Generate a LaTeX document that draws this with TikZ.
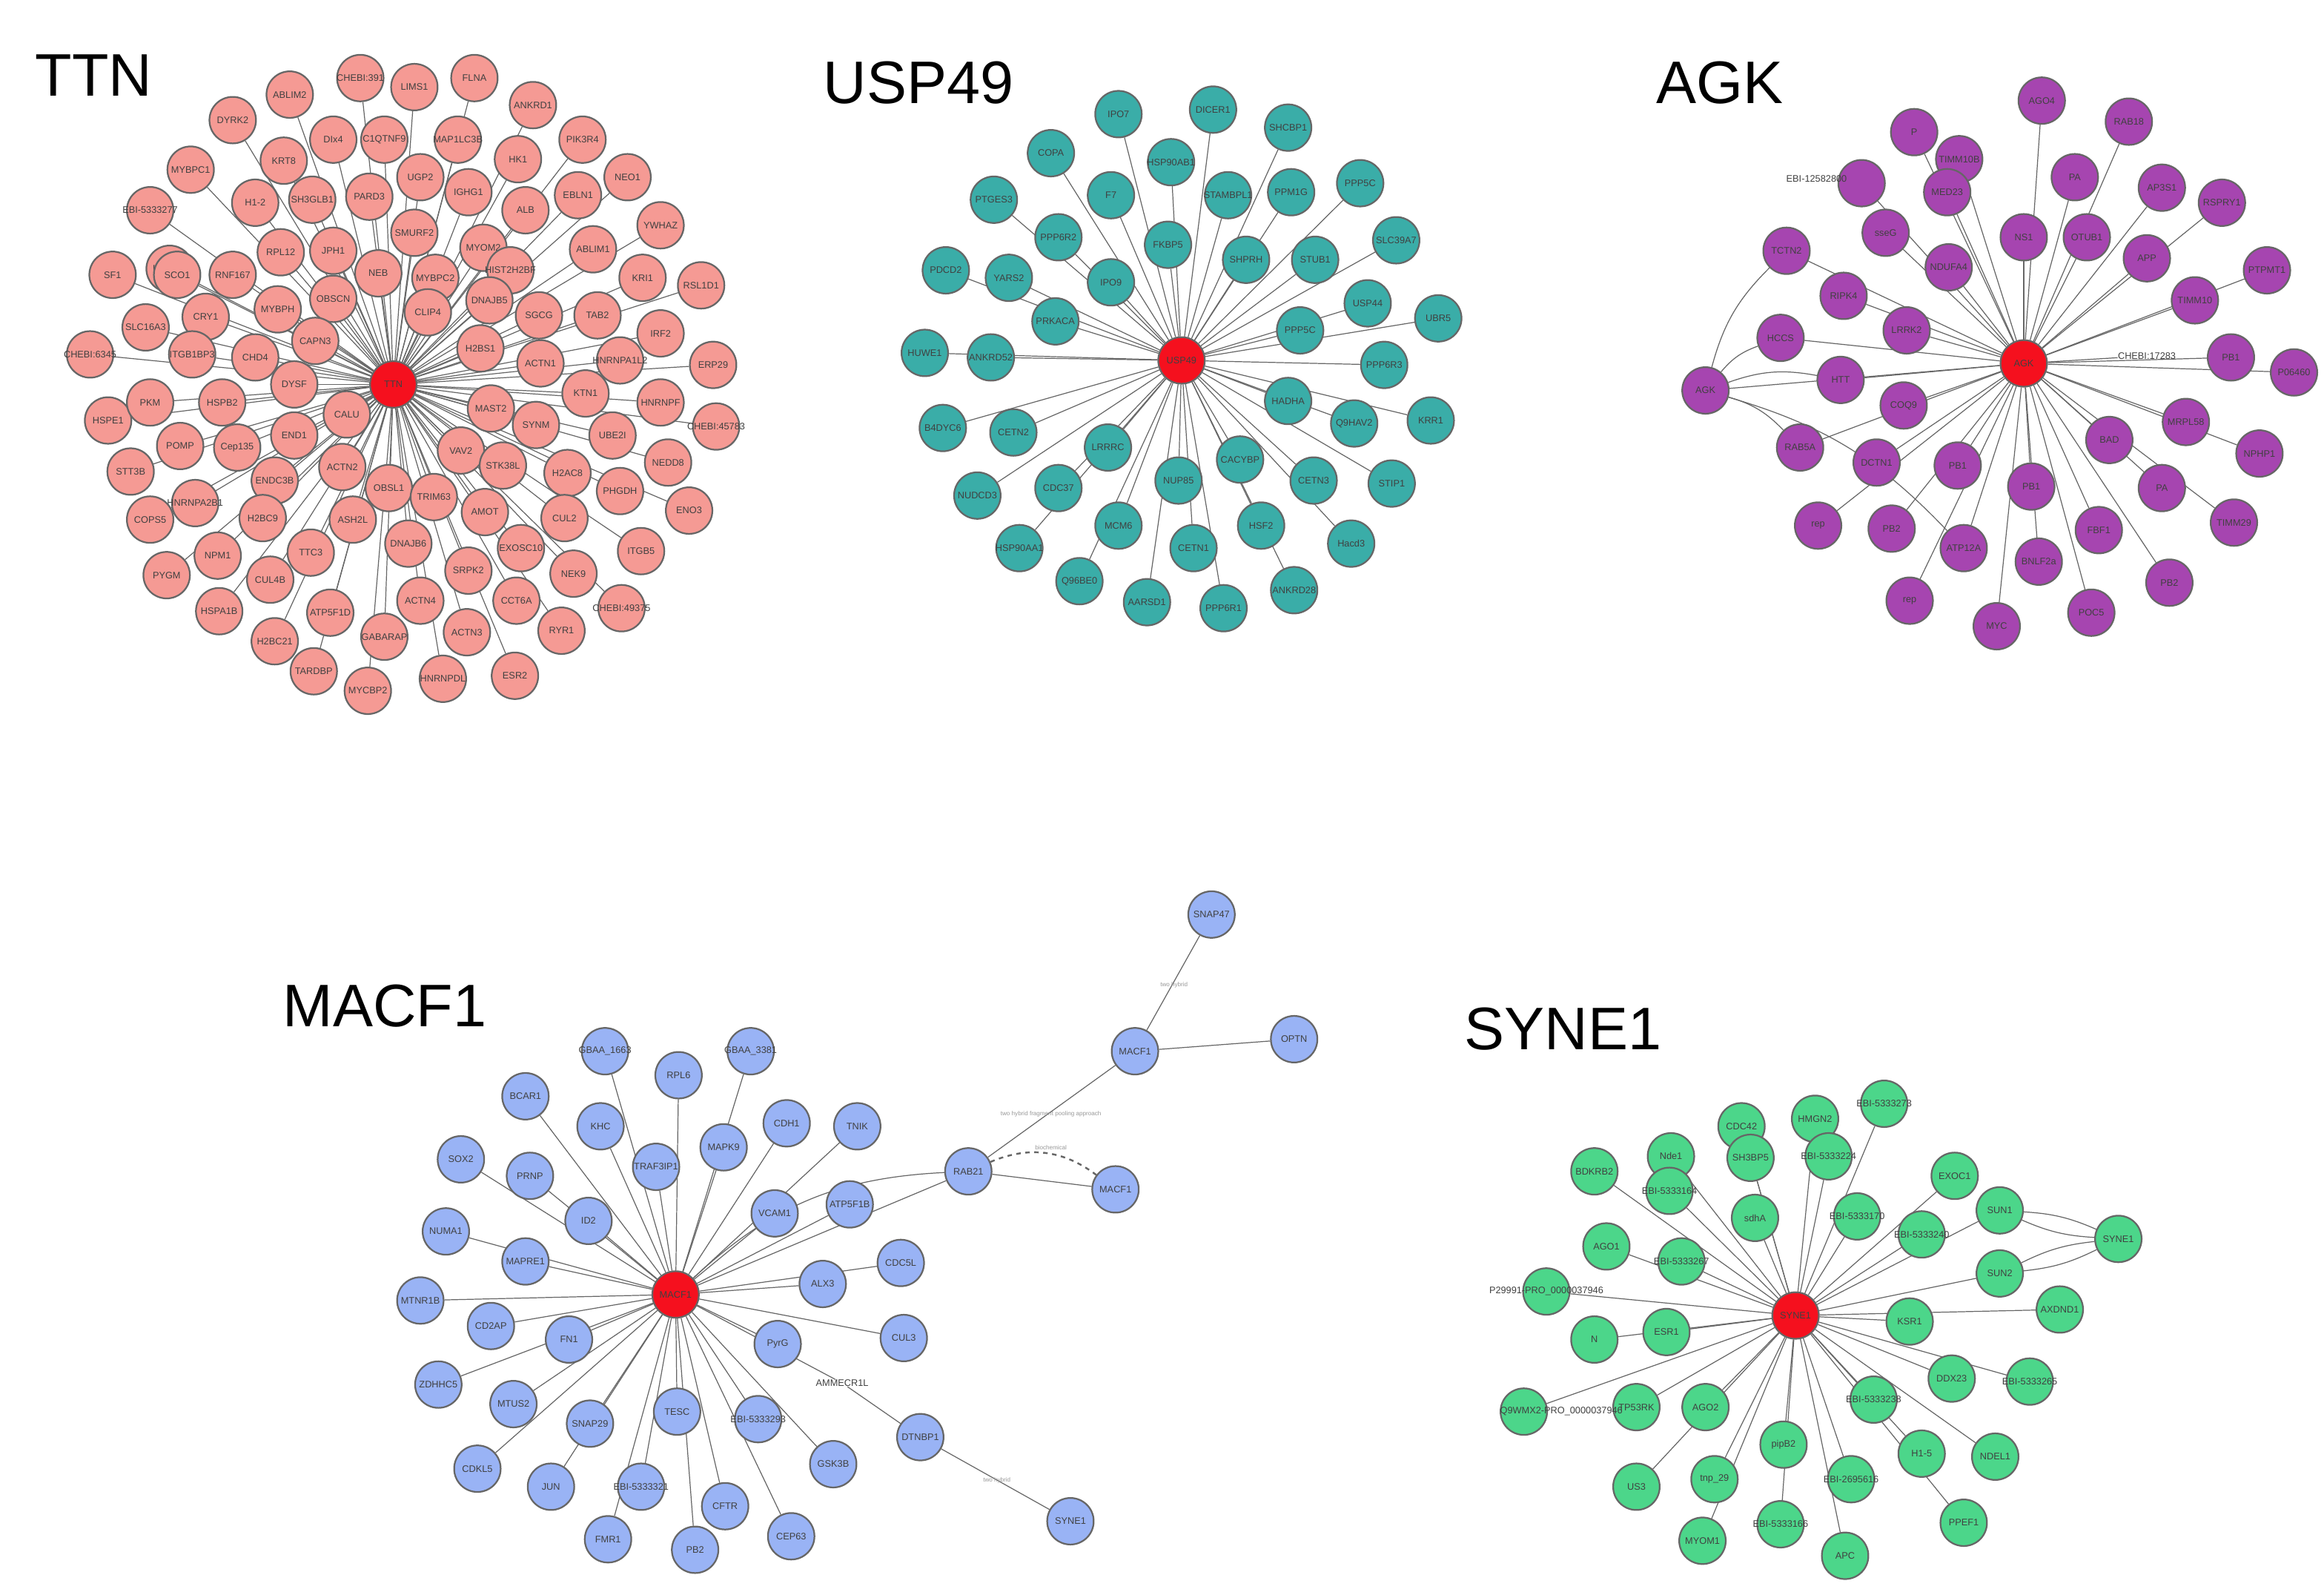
\documentclass[tikz,border=0pt]{standalone}
\usepackage{fontspec}
\setmainfont{Liberation Sans}
\usetikzlibrary{backgrounds}
\definecolor{cT}{HTML}{F59A94}
\definecolor{cU}{HTML}{3AADA8}
\definecolor{cA}{HTML}{A645B0}
\definecolor{cM}{HTML}{99B3F5}
\definecolor{cS}{HTML}{4CD68A}
\definecolor{hubc}{HTML}{F5101E}
\pgfdeclarelayer{edges}
\pgfsetlayers{edges,main}
\tikzset{
 nd/.style={circle,draw=gray!80!black,line width=1.1pt,minimum size=31pt,inner sep=0pt},
 lb/.style={font=\fontsize{6.3}{7}\selectfont,text=black!75,inner sep=0pt},
 hub/.style={nd,fill=hubc},
 ed/.style={draw=black!60,line width=0.6pt},
 ttl/.style={font=\fontsize{40}{46}\selectfont,anchor=west},
 el/.style={font=\fontsize{4}{5}\selectfont,text=black!40}
}
\newcommand{\mynet}[3]{%
 \foreach \x/\y/\t [count=\i] in {#3} {
   \node[nd,fill=#1,label={[lb]center:\t}] (#2-\i) at (\x,\y) {};
 }
 \begin{pgfonlayer}{edges}
 \foreach \x/\y/\t [count=\i] in {#3} {\draw[ed] (#2) -- (#2-\i);}
 \end{pgfonlayer}}
\begin{document}
\begin{tikzpicture}[x=1pt,y=-1pt]
\useasboundingbox (0,0) rectangle (1548,1062);
\begin{pgfonlayer}{edges}\fill[white] (0,0) rectangle (1548,1062);\end{pgfonlayer}
\node[ttl] (tT) at (20,50) {TTN};
\node[ttl] (tU) at (545,55) {USP49};
\node[ttl] (tA) at (1100,55) {AGK};
\node[ttl] (tM) at (185,670) {MACF1};
\node[ttl] (tS) at (972,685) {SYNE1};
% TTN
\node[hub,label={[lb]center:TTN}] (T) at (262,256) {};
\mynet{cT}{T}{316/52/FLNA,276/58/LIMS1,240/52/CHEBI:391,193/63/ABLIM2,355/70/ANKRD1,155/80/DYRK2,388/93/PIK3R4,222/93/DIx4,256/93/C1QTNF9,305/93/MAP1LC3B,127/113/MYBPC1,189/107/KRT8,246/131/PARD3,280/118/UGP2,345/106/HK1,418/118/NEO1,170/135/H1-2,208/133/SH3GLB1,312/128/IGHG1,350/140/ALB,385/130/EBLN1,440/150/YWHAZ,100/140/EBI-5333277,276/155/SMURF2,322/165/MYOM2,395/166/ABLIM1,113/179/HMGA1,187/168/RPL12,222/167/JPH1,340/180/HIST2H2BF,428/185/KRI1,467/190/RSL1D1,75/183/SF1,118/183/SCO1,155/183/RNF167,222/199/OBSCN,252/182/NEB,290/185/MYBPC2,326/200/DNAJB5,359/210/SGCG,398/210/TAB2,440/222/IRF2,185/206/MYBPH,137/211/CRY1,285/208/CLIP4,97/218/SLC16A3,210/227/CAPN3,320/232/H2BS1,360/242/ACTN1,413/240/HNRNPA1L2,475/243/ERP29,60/236/CHEBI:6345,128/236/ITGB1BP3,170/238/CHD4,72/280/HSPE1,100/268/PKM,148/268/HSPB2,196/256/DYSF,231/276/CALU,327/272/MAST2,390/262/KTN1,357/283/SYNM,440/268/HNRNPF,477/284/CHEBI:45783,158/298/Cep135,120/297/POMP,196/290/END1,228/311/ACTN2,307/300/VAV2,408/290/UBE2I,87/314/STT3B,130/335/HNRNPA2B1,183/320/ENDC3B,259/325/OBSL1,335/310/STK38L,378/315/H2AC8,413/327/PHGDH,445/308/NEDD8,100/346/COPS5,175/345/H2BC9,235/346/ASH2L,289/331/TRIM63,323/341/AMOT,376/345/CUL2,459/340/ENO3,145/370/NPM1,272/362/DNAJB6,347/365/EXOSC10,427/367/ITGB5,111/383/PYGM,207/368/TTC3,312/380/SRPK2,382/382/NEK9,180/386/CUL4B,344/400/CCT6A,414/405/CHEBI:49375,146/407/HSPA1B,220/408/ATP5F1D,280/400/ACTN4,374/420/RYR1,183/427/H2BC21,256/424/GABARAP,311/421/ACTN3,209/447/TARDBP,295/452/HNRNPDL,343/450/ESR2,245/460/MYCBP2}
% USP49
\node[hub,label={[lb]center:USP49}] (U) at (787,240) {};
\mynet{cU}{U}{745/76/IPO7,808/73/DICER1,858/85/SHCBP1,700/102/COPA,780/108/HSP90AB1,906/122/PPP5C,860/128/PPM1G,818/130/STAMBPL1,662/133/PTGES3,740/130/F7,930/160/SLC39A7,876/173/STUB1,705/158/PPP6R2,778/163/FKBP5,830/173/SHPRH,630/180/PDCD2,672/185/YARS2,740/188/IPO9,911/202/USP44,958/212/UBR5,703/214/PRKACA,866/220/PPP5C,922/243/PPP6R3,616/235/HUWE1,660/238/ANKRD52,858/267/HADHA,953/280/KRR1,628/285/B4DYC6,675/288/CETN2,902/282/Q9HAV2,738/298/LRRRC,826/306/CACYBP,875/320/CETN3,927/322/STIP1,651/330/NUDCD3,705/325/CDC37,785/320/NUP85,840/350/HSF2,900/362/Hacd3,679/365/HSP90AA1,745/350/MCM6,795/365/CETN1,862/393/ANKRD28,719/387/Q96BE0,764/401/AARSD1,815/405/PPP6R1}
% AGK
\node[hub,label={[lb]center:AGK}] (A) at (1348,242) {};
\mynet{cA}{A}{1275/88/P,1360/67/AGO4,1418/81/RAB18,1305/106/TIMM10B,1297/128/MED23,1382/118/PA,1440/125/AP3S1,1240/122/{},1256/155/sseG,1348/158/NS1,1390/158/OTUB1,1480/135/RSPRY1,1190/167/TCTN2,1298/178/NDUFA4,1430/172/APP,1228/197/RIPK4,1462/200/TIMM10,1510/180/PTPMT1,1186/225/HCCS,1270/220/LRRK2,1486/238/PB1,1528/248/P06460,1226/253/HTT,1268/270/COQ9,1456/281/MRPL58,1505/302/NPHP1,1199/298/RAB5A,1250/308/DCTN1,1405/293/BAD,1304/310/PB1,1353/324/PB1,1440/325/PA,1211/350/rep,1260/352/PB2,1308/365/ATP12A,1358/374/BNLF2a,1398/353/FBF1,1488/348/TIMM29,1272/400/rep,1330/417/MYC,1393/408/POC5,1445/388/PB2}
\node[nd,fill=cA,label={[lb]center:AGK}] (A2) at (1136,260) {};
\node[lb] (ebiA) at (1210,119) {EBI-12582800};
\node[lb] (chA) at (1430,237) {CHEBI:17283};
\begin{pgfonlayer}{edges}
\draw[ed] (A) -- (A2);
\foreach \k in {13,19,23,27,35} {\draw[ed] (A2) to[bend left=15] (A-\k);}
\draw[ed] (A) -- (chA);
\end{pgfonlayer}
% MACF1
\node[hub,label={[lb]center:MACF1}] (M) at (450,862) {};
\mynet{cM}{M}{403/700/GBAA\_1663,500/700/GBAA\_3381,452/716/RPL6,350/730/BCAR1,400/750/KHC,524/748/CDH1,571/750/TNIK,645/780/RAB21,307/772/SOX2,353/783/PRNP,437/777/TRAF3IP1,482/764/MAPK9,566/802/ATP5F1B,392/813/ID2,516/808/VCAM1,297/820/NUMA1,350/840/MAPRE1,600/841/CDC5L,548/855/ALX3,280/866/MTNR1B,327/883/CD2AP,379/892/FN1,518/895/PyrG,602/891/CUL3,292/922/ZDHHC5,342/935/MTUS2,393/948/SNAP29,451/940/TESC,505/945/EBI-5333293,318/978/CDKL5,367/990/JUN,555/975/GSK3B,427/990/EBI-5333321,483/1003/CFTR,527/1023/CEP63,405/1025/FMR1,463/1032/PB2}
\node[nd,fill=cM,label={[lb]center:SNAP47}] (SNAP) at (807,609) {};
\node[nd,fill=cM,label={[lb]center:OPTN}] (OPTN) at (862,692) {};
\node[nd,fill=cM,label={[lb]center:MACF1}] (MA) at (756,700) {};
\node[nd,fill=cM,label={[lb]center:MACF1}] (MB) at (743,792) {};
\node[nd,fill=cM,label={[lb]center:DTNBP1}] (DT) at (613,957) {};
\node[nd,fill=cM,label={[lb]center:SYNE1}] (SY) at (713,1013) {};
\node[lb] (AMM) at (561,921) {AMMECR1L};
\begin{pgfonlayer}{edges}
\draw[ed] (M-8) -- (MA); \draw[ed] (MA) -- (SNAP); \draw[ed] (MA) -- (OPTN);
\draw[ed] (M-8) -- (MB);
\draw[ed,dashed,line width=1.2pt] (M-8) to[bend left=30] (MB);
\draw[ed] (M) -- (AMM); \draw[ed] (AMM) -- (DT); \draw[ed] (DT) -- (SY);
\draw[ed] (M) to[bend left=20] (M-8);
\end{pgfonlayer}
\node[el] (l1) at (782,656) {two hybrid};
\node[el] (l2) at (700,742) {two hybrid fragment pooling approach};
\node[el] (l3) at (664,986) {two hybrid};
\node[el] (l4) at (700,764) {biochemical};
% SYNE1
\node[hub,label={[lb]center:SYNE1}] (S) at (1196,876) {};
\mynet{cS}{S}{1209/745/HMGN2,1160/750/CDC42,1255/735/EBI-5333273,1113/770/Nde1,1166/771/SH3BP5,1218/770/EBI-5333224,1302/783/EXOC1,1062/780/BDKRB2,1112/793/EBI-5333164,1169/811/sdhA,1237/810/EBI-5333170,1280/822/EBI-5333240,1332/806/SUN1,1070/830/AGO1,1120/840/EBI-5333267,1332/848/SUN2,1030/860/{},1372/872/AXDND1,1062/892/N,1110/887/ESR1,1272/880/KSR1,1300/918/DDX23,1352/920/EBI-5333265,1015/940/{},1090/937/TP53RK,1136/937/AGO2,1248/932/EBI-5333238,1188/962/pipB2,1280/968/H1-5,1329/970/NDEL1,1090/990/US3,1142/985/tnp\_29,1233/985/EBI-2695616,1308/1014/PPEF1,1134/1026/MYOM1,1186/1015/EBI-5333166,1229/1036/APC}
\node[lb] (pS) at (1030,860) {P29991-PRO\_0000037946};
\node[lb] (qS) at (1040,940) {Q9WMX2-PRO\_0000037946};
\node[nd,fill=cS,label={[lb]center:SYNE1}] (S2) at (1411,825) {};
\begin{pgfonlayer}{edges}
\draw[ed] (S-13) to[bend left=10] (S2); \draw[ed] (S-13) to[bend right=10] (S2);
\draw[ed] (S-16) to[bend left=10] (S2); \draw[ed] (S-16) to[bend right=10] (S2);
\end{pgfonlayer}
\end{tikzpicture}
\end{document}
